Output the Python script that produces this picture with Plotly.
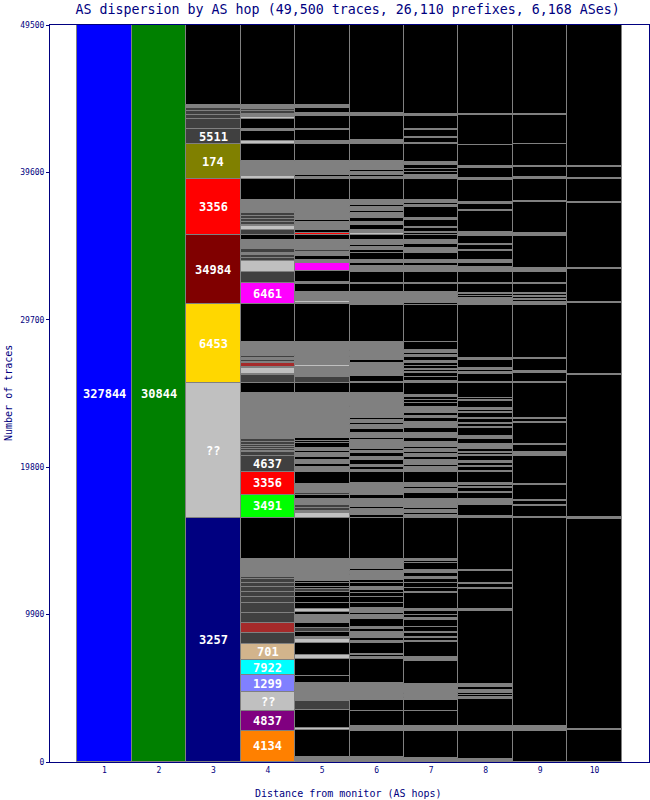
import numpy as np
import plotly.graph_objects as go

# ---------------- data ----------------
hops = [1, 2, 3, 4, 5, 6, 7, 8, 9, 10]
hop_labels = ["1", "2", "3", "4", "5", "6", "7", "8", "9", "10"]
y_ticks = [0, 9900, 19800, 29700, 39600, 49500]
y_tick_labels = ["0", "9900", "19800", "29700", "39600", "49500"]

# colour codes
PAL = {
    "blue": "#0000FF", "green": "#008000", "N": "#000080", "l": "#C0C0C0",
    "Y": "#FFD700", "M": "#800000", "R": "#FF0000", "O": "#808000",
    "d": "#404040", "g": "#808080", "k": "#000000", "B": "#FF8000",
    "P": "#800080", "V": "#8080FF", "C": "#00FFFF", "T": "#D2B48C",
    "W": "#A52A2A", "G": "#00FF00", "F": "#FF00FF",
}

# segments listed bottom-up (number of traces)
c1_values = [49500]
c1_colors = ["blue"]
c1_labels = ["327844"]

c2_values = [49500]
c2_colors = ["green"]
c2_labels = ["30844"]

c3_values = [16388, 9047, 5293, 4648, 3761, 2351, 1007, 672, 289, 289, 201, 181, 5373]
c3_colors = ["N", "l", "Y", "M", "R", "O", "d", "d", "d", "d", "d", "g", "k"]
c3_labels = ["3257", "??", "6453", "34984", "3356", "174", "5511", "", "", "", "", "", ""]

c4_values = [2102, 1343, 1236, 1142, 1048, 1075, 739, 672, 672, 672, 363, 356, 316, 309, 228, 175, 1189, 2754,
             1565, 1545, 1034, 309, 67, 134, 134, 134, 201, 181, 383, 2687, 672,
             557, 67, 403, 67, 269, 87, 134, 134, 134, 161, 759, 2519,
             1424, 779, 739, 201, 201, 134, 228, 625, 316,
             336, 269, 87, 201, 201, 201, 201, 873, 1390,
             222, 67, 940, 1122,
             242, 651, 114, 672, 175, 181, 181, 175, 249, 5373]
c4_colors = ["B", "P", "l", "V", "C", "T", "d", "W", "d", "d", "d", "d", "d", "d", "d", "d", "g", "k",
             "G", "R", "d", "d", "g", "d", "d", "d", "d", "d", "g", "g", "k",
             "d", "g", "l", "g", "W", "g", "d", "g", "d", "g", "g", "k",
             "F", "d", "l", "d", "d", "g", "d", "g", "k",
             "d", "l", "g", "d", "d", "d", "d", "g", "k",
             "l", "g", "g", "k",
             "l", "k", "g", "k", "l", "g", "d", "d", "g", "k"]
c4_labels = ["4134", "4837", "??", "1299", "7922", "701"] + [""] * 12 + \
            ["3491", "3356", "4637"] + [""] * 10 + \
            [""] * 12 + \
            ["6461"] + [""] * 8 + \
            [""] * 9 + [""] * 4 + [""] * 10

c5_values = [87, 228, 1834, 114, 1229, 604, 672, 67, 450, 490, 1142, 289, 766, 269, 175, 296, 269, 376, 517, 201,
             181, 443, 363, 376, 161, 175, 228, 175, 1437, 2774,
             316, 168, 168, 222, 383, 289, 101, 638, 826, 316, 201, 269, 222, 228, 168, 201, 302, 168, 168, 3063, 631,
             450, 665, 114, 269, 336, 67, 893, 2498,
             101, 154, 604, 517, 154, 719, 517, 222, 289, 228, 154, 181, 490, 316,
             175, 181, 336, 101, 134, 101, 154, 67, 316, 87, 719, 1390,
             175, 114, 960, 1101,
             242, 719, 47, 893, 222, 336, 181, 5373]
c5_colors = ["l", "g", "k", "l", "k", "d", "g", "d", "g", "k", "k", "l", "k", "l", "g", "k", "d", "k", "g", "k",
             "l", "k", "k", "k", "d", "k", "k", "k", "g", "k",
             "l", "g", "d", "d", "g", "k", "d", "g", "k", "g", "k", "g", "k", "g", "k", "g", "k", "k", "k", "g", "k",
             "d", "g", "l", "g", "g", "k", "g", "k",
             "k", "l", "g", "k", "g", "k", "F", "g", "k", "g", "d", "g", "g", "k",
             "R", "k", "g", "k", "g", "k", "g", "k", "g", "k", "g", "k",
             "g", "k", "g", "k",
             "g", "k", "g", "k", "g", "k", "g", "k"]

c6_values = [316, 1787, 316, 1007, 739, 1162, 1612, 94, 134, 87, 719, 175, 181, 87, 228, 107, 161, 134, 537, 289,
             154, 296, 376, 363, 309, 181, 222, 228, 222, 114, 222, 67, 222, 94, 692, 2754,
             201, 201, 87, 134, 94, 537, 289, 154, 67, 564, 779, 114, 222, 114, 336, 222, 228, 175, 94, 403,
             107, 114, 114, 376, 228, 289, 114, 222, 114, 759, 67, 893, 631,
             67, 403, 625, 67, 181, 222, 181, 87, 336, 67, 557, 2498,
             860, 517, 87, 739, 383, 222, 181, 450, 222, 222, 114, 336, 316,
             134, 222, 336, 222, 269, 336, 134, 269, 114, 336, 1390,
             175, 114, 222, 114, 604, 1122,
             67, 107, 114, 1612, 222, 5890]
c6_colors = ["g", "k", "g", "k", "k", "g", "k", "g", "k", "g", "k", "g", "k", "k", "g", "k", "k", "g", "k", "g",
             "k", "g", "k", "k", "k", "k", "g", "k", "k", "g", "g", "k", "g", "k", "g", "k",
             "k", "g", "k", "g", "k", "g", "k", "g", "k", "g", "k", "g", "k", "g", "k", "g", "k", "g", "k", "g",
             "k", "g", "k", "g", "k", "g", "k", "g", "k", "g", "k", "g", "k",
             "l", "k", "g", "d", "g", "k", "g", "k", "g", "k", "g", "k",
             "g", "k", "g", "k", "g", "k", "g", "k", "k", "g", "k", "g", "k",
             "l", "g", "k", "g", "k", "g", "k", "g", "k", "g", "k",
             "g", "k", "g", "k", "g", "k",
             "g", "k", "g", "k", "g", "k"]

c7_values = [249, 1854, 316, 987, 759, 114, 107, 181, 87, 584, 1565, 94, 87, 87, 987, 87, 161, 107, 269, 67,
             336, 450, 114, 222, 289, 94, 1115, 67, 228, 336, 309, 134, 269, 181, 490, 134, 114, 2754,
             222, 94, 222, 114, 604, 403, 269, 134, 269, 779, 336, 114, 336, 222, 181, 154, 161, 175, 336, 228,
             336, 336, 443, 228, 154, 181, 443, 228, 222, 181, 154, 786,
             175, 269, 228, 87, 134, 94, 154, 201, 175, 228, 175, 134, 201, 537, 2498,
             81, 779, 517, 87, 739, 383, 181, 222, 490, 296, 289, 269, 316,
             134, 107, 228, 107, 450, 114, 779, 114, 154, 181, 1390,
             289, 222, 201, 228, 87, 154, 1169,
             87, 316, 107, 430, 67, 893, 134, 5978]
c7_colors = ["g", "k", "g", "k", "k", "g", "k", "g", "k", "g", "k", "g", "k", "g", "k", "g", "k", "g", "k", "g",
             "k", "k", "g", "k", "k", "g", "k", "g", "k", "k", "k", "g", "k", "g", "k", "k", "g", "k",
             "g", "k", "g", "k", "g", "k", "g", "k", "g", "k", "g", "k", "g", "k", "g", "k", "g", "k", "g", "k",
             "g", "k", "g", "k", "g", "k", "g", "k", "k", "k", "g", "k",
             "g", "k", "k", "g", "k", "g", "k", "k", "g", "k", "g", "k", "g", "k", "k",
             "k", "g", "k", "g", "k", "g", "k", "g", "k", "g", "k", "g", "k",
             "k", "g", "k", "g", "k", "g", "k", "g", "k", "g", "k",
             "g", "k", "k", "k", "k", "g", "k",
             "g", "k", "g", "k", "g", "k", "g", "k"]

c8_values = [181, 1921, 316, 1834, 94, 175, 114, 87, 114, 181, 87, 134, 4923, 94, 1363, 67, 269, 87, 786, 67, 3493,
             154, 698, 87, 87, 228, 403, 107, 228, 67, 154, 114, 779, 67, 269, 67, 161, 175, 316, 67, 154, 67,
             161, 67, 107, 181, 316, 67, 67, 87, 557, 67, 181, 87, 228, 67, 336, 67, 154, 114, 490, 67, 114, 1007,
             107, 517, 154, 114, 114, 557, 114, 3613,
             282, 201, 87, 134, 87, 584, 87, 739, 336, 269, 181, 625, 94, 289, 114, 490, 47,
             175, 67, 1410, 94, 403, 107, 1504,
             134, 672, 87, 1457,
             1968, 67, 5978]
c8_colors = ["g", "k", "g", "k", "g", "k", "k", "k", "g", "k", "g", "g", "k", "g", "k", "g", "k", "g", "k", "g", "k",
             "g", "k", "g", "k", "g", "k", "g", "k", "g", "k", "g", "k", "g", "k", "g", "k", "g", "k", "g", "k", "g",
             "k", "g", "k", "g", "k", "g", "k", "g", "k", "g", "k", "g", "k", "g", "k", "g", "k", "g", "k", "g", "k", "k",
             "g", "k", "g", "k", "g", "k", "g", "k",
             "g", "g", "k", "k", "g", "k", "g", "k", "g", "k", "g", "k", "g", "k", "g", "k", "g",
             "g", "k", "k", "g", "k", "g", "k",
             "g", "k", "g", "k",
             "k", "g", "k"]

c9_values = [2102, 316, 13970,
             87, 719, 67, 269, 67, 987, 87, 1881, 134, 47, 107, 450, 67, 1390, 107, 161, 67, 2351,
             107, 604, 114, 786, 67, 3613,
             148, 154, 67, 154, 67, 114, 67, 604, 87, 739, 228, 2149, 67,
             175, 2062, 87, 1437,
             134, 672, 87, 1457,
             1968, 67, 5978]
c9_colors = ["k", "g", "k",
             "g", "k", "g", "k", "g", "k", "g", "k", "g", "g", "k", "k", "g", "k", "g", "k", "g", "k",
             "g", "k", "g", "k", "g", "k",
             "g", "k", "g", "k", "g", "k", "g", "k", "g", "k", "g", "k", "g",
             "g", "k", "g", "k",
             "g", "k", "g", "k",
             "k", "g", "k"]

c10_values = [2149, 67, 14104, 114, 9537, 114, 4722, 107, 2176, 67, 4406, 67, 1504, 67, 739, 87, 9470]
c10_colors = ["k", "g", "k", "g", "k", "g", "k", "g", "k", "g", "k", "g", "k", "g", "k", "g", "k"]

columns = [
    (1, c1_values, c1_colors, c1_labels),
    (2, c2_values, c2_colors, c2_labels),
    (3, c3_values, c3_colors, c3_labels),
    (4, c4_values, c4_colors, c4_labels),
    (5, c5_values, c5_colors, None),
    (6, c6_values, c6_colors, None),
    (7, c7_values, c7_colors, None),
    (8, c8_values, c8_colors, None),
    (9, c9_values, c9_colors, None),
    (10, c10_values, c10_colors, None),
]

NAVY = "#000080"
MONO = "DejaVu Sans Mono"

fig = go.Figure()
for hop, vals, cols, labs in columns:
    v = np.array(vals, dtype=float)
    base = np.concatenate([[0.0], np.cumsum(v)[:-1]])
    fig.add_trace(go.Bar(
        x=[hop] * len(v), y=v, base=base, width=1,
        marker=dict(color=[PAL[c] for c in cols], line=dict(color="#808080", width=1)),
        hoverinfo="skip", showlegend=False,
    ))
    if labs:
        for val, b, lab in zip(v, base, labs):
            if lab:
                fig.add_annotation(x=hop, y=b + val / 2, text="<b>" + lab + "</b>", showarrow=False,
                                   font=dict(family=MONO, size=12, color="white"))

fig.add_annotation(xref="paper", yref="paper", x=0, y=0.5, xshift=-41.5, textangle=-90,
                   text="Number of traces", showarrow=False, xanchor="center", yanchor="middle",
                   font=dict(family=MONO, size=10, color=NAVY))
fig.add_annotation(xref="paper", yref="paper", x=0.5, y=0, yshift=-31, xshift=-1,
                   text="Distance from monitor (AS hops)", showarrow=False, xanchor="center", yanchor="middle",
                   font=dict(family=MONO, size=10, color=NAVY))

fig.update_layout(
    width=650, height=800, margin=dict(l=50, r=1, t=25, b=38),
    barmode="overlay", bargap=0, plot_bgcolor="white", paper_bgcolor="white",
    title=dict(text="AS dispersion by AS hop (49,500 traces, 26,110 prefixes, 6,168 ASes)",
               x=0.497, xref="paper", xanchor="center", y=1 - 9 / 800, yanchor="middle",
               font=dict(family=MONO, size=13.3, color=NAVY)),
)
fig.update_xaxes(range=[0, 11], tickvals=hops, ticktext=hop_labels, ticks="", showgrid=False, zeroline=False,
                 showline=True, linecolor=NAVY, linewidth=1, mirror=True,
                 tickfont=dict(family=MONO, size=8, color=NAVY))
fig.update_yaxes(range=[0, 49500], tickvals=y_ticks, ticktext=y_tick_labels, ticks="outside", ticklen=3,
                 tickcolor=NAVY, showgrid=False, zeroline=False, showline=True, linecolor=NAVY, linewidth=1,
                 mirror=True, tickfont=dict(family=MONO, size=8, color=NAVY))

fig.write_html("out.html")
